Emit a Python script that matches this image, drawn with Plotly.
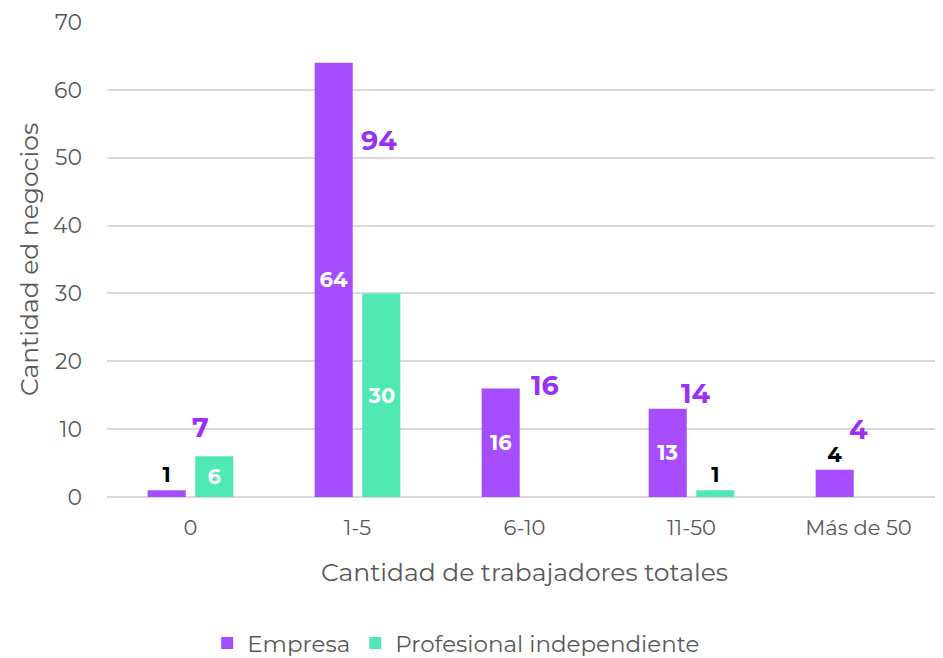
import plotly.graph_objects as go

categories = ["0", "1-5", "6-10", "11-50", "Más de 50"]
empresa = [1, 64, 16, 13, 4]
profesional = [6, 30, 0, 1, 0]
totals = [7, 94, 16, 14, 4]
y_ticks = [0, 10, 20, 30, 40, 50, 60, 70]

PURPLE = "#A64DFF"
GREEN = "#50E9B3"
TOTAL_PURPLE = "#9B30F5"
FONT = "Montserrat, Open Sans, sans-serif"


def text_props(vals, threshold=5):
    pos, col, txt = [], [], []
    for v in vals:
        if v == 0:
            txt.append("")
            pos.append("none")
            col.append("white")
        elif v < threshold:
            txt.append(str(v))
            pos.append("outside")
            col.append("black")
        else:
            txt.append(str(v))
            pos.append("inside")
            col.append("white")
    return txt, pos, col


fig = go.Figure()
for name, vals, color in [("Empresa", empresa, PURPLE), ("Profesional independiente", profesional, GREEN)]:
    txt, pos, col = text_props(vals)
    fig.add_trace(go.Bar(
        name=name, x=categories, y=vals, marker=dict(color=color, line=dict(color=color, width=0)),
        text=txt, textposition=pos, insidetextanchor="middle",
        textfont=dict(color=col, size=21, family=FONT, weight="bold"),
        cliponaxis=False,
    ))

# total labels (placed like the original)
total_y = [10.3, 52.5, 16.5, 15.3, 10]
total_dx = [10, 21, 20, 4, 0]
for c, t, ty, dx in zip(categories, totals, total_y, total_dx):
    fig.add_annotation(x=c, y=ty, text=f"<b>{t}</b>", showarrow=False, xshift=dx,
                       font=dict(size=27, color=TOTAL_PURPLE, family=FONT))

fig.update_layout(
    width=935, height=650,
    margin=dict(l=99, r=1, t=14, b=161),
    paper_bgcolor="white", plot_bgcolor="white",
    barmode="group", bargap=0.43, bargroupgap=0.2,
    font=dict(family=FONT, color="#595959", size=21),
    legend=dict(orientation="h", x=0.12, xanchor="left", yref="container", y=0.023, yanchor="middle",
                font=dict(size=23, color="#595959"), traceorder="normal", itemwidth=30),
    showlegend=True,
)
fig.update_xaxes(title=dict(text="Cantidad de trabajadores totales", font=dict(size=25, color="#595959"), standoff=24),
                 showline=False, ticks="", tickfont=dict(size=21, color="#595959"),
                 ticklabelstandoff=16, automargin=False)
fig.update_yaxes(range=[0, 70], tickvals=y_ticks, showgrid=True, gridcolor="#D9D9D9", gridwidth=2,
                 zeroline=True, zerolinecolor="#D9D9D9", zerolinewidth=2,
                 title=dict(text="Cantidad ed negocios", font=dict(size=25, color="#595959"), standoff=7),
                 tickfont=dict(size=22, color="#595959"), ticks="", ticklen=0,
                 ticklabelstandoff=24, automargin=False)

fig.write_html("out.html")
